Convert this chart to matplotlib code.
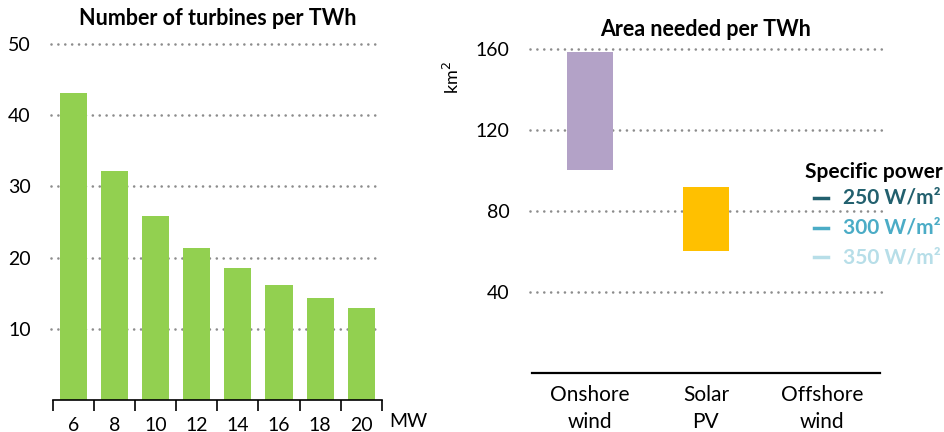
import matplotlib
matplotlib.use('Agg')
import matplotlib.pyplot as plt
import numpy as np

plt.rcParams['font.family'] = ['Lato', 'DejaVu Sans']

# left chart: turbines per TWh by turbine size
sizes = ['6', '8', '10', '12', '14', '16', '18', '20']
turbines = [43.1, 32.2, 25.8, 21.4, 18.6, 16.2, 14.3, 12.9]

# right chart: area needed per TWh (floating bars, km2)
techs = ['Onshore\nwind', 'Solar\nPV', 'Offshore\nwind']
area_low = [100, 60, np.nan]
area_high = [158.5, 92, np.nan]

legend_labels = ['250 W/m²', '300 W/m²', '350 W/m²']
legend_colors = ['#22606E', '#4BACC6', '#B7DEE8']

dotted = dict(color='#8C8C8C', linestyle=(0, (0.01, 2.6)), linewidth=1.9,
              dash_capstyle='round', zorder=0)

fig = plt.figure(figsize=(9.45, 4.32), dpi=100)

# ---- left chart
ax1 = fig.add_axes([0.056, 0.074, 0.348, 0.824])
x = np.arange(len(sizes))
ax1.bar(x, turbines, width=0.66, color='#92D050', zorder=2)
ax1.set_xlim(-0.5, len(sizes) - 0.5)
ax1.set_ylim(0, 50)
for v in [10, 20, 30, 40, 50]:
    ax1.plot([-0.55, len(sizes) - 0.65], [v, v], clip_on=False, **dotted)
ax1.set_yticks([10, 20, 30, 40, 50])
ax1.tick_params(axis='y', length=0, labelsize=14, pad=16)
ax1.set_xticks(x)
ax1.set_xticklabels(sizes)
ax1.set_xticks(np.arange(-0.5, len(sizes)), minor=True)
ax1.tick_params(axis='x', which='major', length=0, labelsize=14, pad=12)
ax1.tick_params(axis='x', which='minor', length=8, width=1.2, direction='out')
for s in ['top', 'right', 'left']:
    ax1.spines[s].set_visible(False)
ax1.spines['bottom'].set_linewidth(1.2)
ax1.text(len(sizes) - 0.33, -3.0, 'MW', fontsize=14, ha='left', va='center')
ax1.set_title('Number of turbines per TWh', fontsize=15.5, fontweight='bold', pad=14)

# ---- right chart
ax2 = fig.add_axes([0.563, 0.137, 0.368, 0.75])
xr = np.arange(len(techs))
heights = np.array(area_high) - np.array(area_low)
ax2.bar(xr, heights, bottom=area_low, width=0.4,
        color=['#B3A2C7', '#FFC000', '#FFFFFF'], zorder=2)
ax2.set_xlim(-0.5, len(techs) - 0.5)
ax2.set_ylim(0, 160)
for v in [40, 80, 120, 160]:
    ax2.plot([-0.52, len(techs) - 0.48], [v, v], clip_on=False, **dotted)
ax2.set_yticks([40, 80, 120, 160])
ax2.tick_params(axis='y', length=0, labelsize=14, pad=16)
ax2.set_xticks(xr)
ax2.set_xticklabels(techs, linespacing=1.4)
ax2.tick_params(axis='x', length=0, labelsize=15, pad=9)
for s in ['top', 'right', 'left']:
    ax2.spines[s].set_visible(False)
ax2.spines['bottom'].set_linewidth(1.6)
ax2.set_ylabel('km$^2$', fontsize=13, labelpad=2)
ax2.yaxis.set_label_coords(-0.2, 0.91)
ax2.set_title('Area needed per TWh', fontsize=15.5, fontweight='bold', pad=9)

# legend
fig.text(0.998, 1 - 172 / 432, 'Specific power', fontsize=15, fontweight='bold',
         ha='right', va='center')
for i, (lab, col) in enumerate(zip(legend_labels, legend_colors)):
    yy = 1 - (198 + 29.5 * i) / 432
    fig.text(0.995, yy, lab, fontsize=15, fontweight='bold', color=col,
             ha='right', va='center')
    fig.add_artist(plt.Line2D([814 / 945, 828 / 945], [yy, yy], color=col,
                              linewidth=2.5, transform=fig.transFigure))

fig.savefig('out.png', dpi=100)
